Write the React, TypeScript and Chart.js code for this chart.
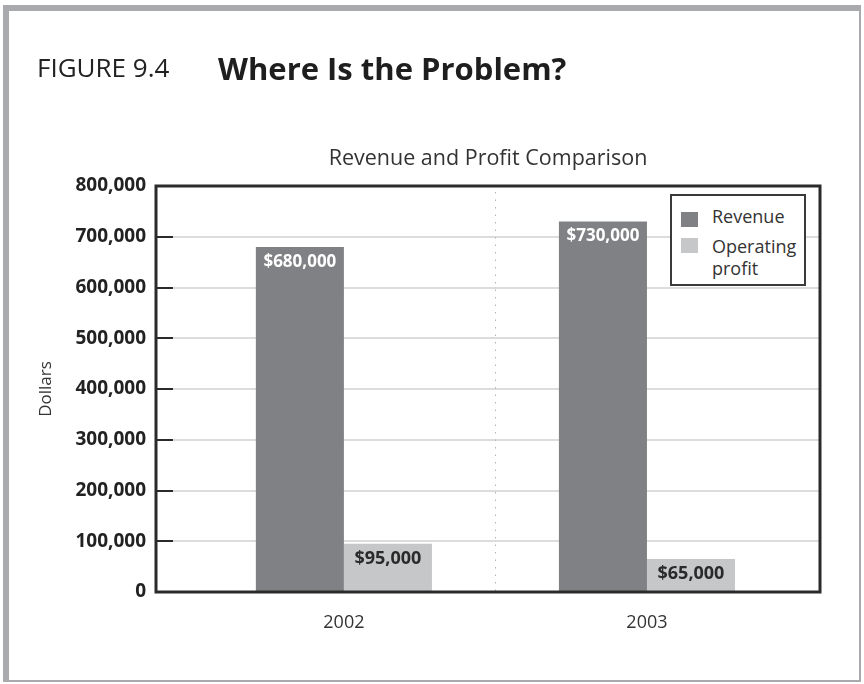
import React, { useEffect, useRef } from 'react';
import { Chart, registerables } from 'chart.js';

Chart.register(...registerables);

const categories = ['2002', '2003'];
const seriesNames = ['Revenue', 'Operating profit'];
const revenue = [680000, 730000];
const operatingProfit = [95000, 65000];
const yTickStep = 100000;
const yMax = 800000;

const FONT = '"Open Sans", "Noto Sans", sans-serif';
const REV_COLOR = '#808184';
const PROFIT_COLOR = '#c6c7c9';
const FRAME_GRAY = '#a9aaad';

const fmt = (v: number) => v.toLocaleString('en-US');

const decorPlugin = {
  id: 'decor',
  afterDatasetsDraw(chart: any) {
    const { ctx, chartArea: a, scales } = chart;
    const x = scales.x;
    const y = scales.y;
    ctx.save();
    // dotted category divider
    const xm = Math.round(x.getPixelForValue(0.5)) + 0.5;
    ctx.strokeStyle = '#b5b5b5';
    ctx.lineWidth = 1;
    ctx.setLineDash([1.5, 6]);
    ctx.beginPath();
    ctx.moveTo(xm, a.top + 6);
    ctx.lineTo(xm, a.bottom);
    ctx.stroke();
    ctx.setLineDash([]);
    // inner tick marks
    ctx.strokeStyle = '#2a2a2a';
    ctx.lineWidth = 2;
    y.ticks.forEach((t: any) => {
      const py = Math.round(y.getPixelForValue(t.value));
      ctx.beginPath();
      ctx.moveTo(a.left, py);
      ctx.lineTo(a.left + 17, py);
      ctx.stroke();
    });
    // value labels
    chart.data.datasets.forEach((ds: any, di: number) => {
      const meta = chart.getDatasetMeta(di);
      meta.data.forEach((el: any, i: number) => {
        const v = ds.data[i].y;
        ctx.fillStyle = di === 0 ? '#ffffff' : '#2a2a2a';
        ctx.font = `bold ${di === 0 ? 17 : 18}px ${FONT}`;
        ctx.textAlign = 'center';
        ctx.textBaseline = 'middle';
        ctx.fillText('$' + fmt(v), el.x, el.y + 15);
      });
    });
    // plot frame
    ctx.strokeStyle = '#2a2a2a';
    ctx.lineWidth = 3;
    ctx.strokeRect(a.left, a.top, a.right - a.left, a.bottom - a.top);
    ctx.restore();
  },
};

export default function App() {
  const canvasRef = useRef<HTMLCanvasElement | null>(null);

  useEffect(() => {
    const canvas = canvasRef.current;
    if (!canvas) return;
    const chart = new Chart(canvas, {
      type: 'bar',
      data: {
        datasets: [
          {
            label: seriesNames[0],
            data: categories.map((_, i) => ({ x: i, y: revenue[i] })),
            backgroundColor: REV_COLOR,
            categoryPercentage: 0.581,
            barPercentage: 1,
          },
          {
            label: seriesNames[1],
            data: categories.map((_, i) => ({ x: i, y: operatingProfit[i] })),
            backgroundColor: PROFIT_COLOR,
            categoryPercentage: 0.581,
            barPercentage: 1,
          },
        ],
      },
      options: {
        animation: false,
        responsive: false,
        maintainAspectRatio: false,
        layout: { padding: { top: 186, right: 44, left: 0, bottom: 0 } },
        plugins: {
          legend: { display: false },
          tooltip: { enabled: false },
          title: { display: false },
        },
        scales: {
          x: {
            type: 'linear',
            min: -0.62,
            max: 1.571,
            offset: false,
            grid: { display: false },
            border: { display: false },
            afterBuildTicks: (s: any) => {
              s.ticks = categories.map((_, i) => ({ value: i }));
            },
            afterFit: (s: any) => {
              s.height = 92;
            },
            ticks: {
              autoSkip: false,
              maxRotation: 0,
              padding: 12,
              color: '#333',
              font: { family: FONT, size: 18 },
              callback: (v: any) => categories[v] ?? '',
            },
          },
          y: {
            min: 0,
            max: yMax,
            grid: { color: '#dcdcdc', lineWidth: 2, drawTicks: false },
            border: { display: false },
            afterFit: (s: any) => {
              s.width = 156;
            },
            ticks: {
              stepSize: yTickStep,
              padding: 10,
              color: '#222',
              font: { family: FONT, size: 19, weight: 'bold' },
              callback: (v: any) => fmt(v),
            },
            title: {
              display: true,
              text: 'Dollars',
              color: '#333',
              font: { family: FONT, size: 17 },
              padding: { top: 36, bottom: 0 },
            },
          },
        },
      },
      plugins: [decorPlugin],
    } as any);
    return () => chart.destroy();
  }, []);

  return (
    <div
      style={{
        position: 'absolute',
        left: 0,
        top: 0,
        width: 864,
        height: 684,
        background: '#fff',
        fontFamily: FONT,
        overflow: 'hidden',
      }}
    >
      {/* outer frame */}
      <div
        style={{
          position: 'absolute',
          left: 3,
          top: 5,
          width: 861 - 3 - 6 - 2,
          height: 682 - 5 - 6 - 2,
          borderTop: `6px solid ${FRAME_GRAY}`,
          borderLeft: `6px solid ${FRAME_GRAY}`,
          borderRight: `2px solid ${FRAME_GRAY}`,
          borderBottom: `2px solid ${FRAME_GRAY}`,
        }}
      />
      <canvas
        ref={canvasRef}
        width={864}
        height={684}
        style={{ position: 'absolute', left: 0, top: 0, width: 864, height: 684 }}
      />
      <div
        style={{
          position: 'absolute',
          left: 37,
          top: 49,
          fontSize: 26,
          lineHeight: '36px',
          color: '#222',
          whiteSpace: 'nowrap',
        }}
      >
        FIGURE 9.4
      </div>
      <div
        style={{
          position: 'absolute',
          left: 218,
          top: 48,
          fontSize: 31,
          fontWeight: 'bold',
          lineHeight: '40px',
          color: '#1e1e1e',
          whiteSpace: 'nowrap',
        }}
      >
        Where Is the Problem?
      </div>
      <div
        style={{
          position: 'absolute',
          left: 146,
          width: 684,
          top: 143,
          textAlign: 'center',
          fontSize: 21.5,
          lineHeight: '28px',
          color: '#333',
          whiteSpace: 'nowrap',
        }}
      >
        Revenue and Profit Comparison
      </div>
      {/* legend */}
      <div
        style={{
          position: 'absolute',
          left: 670,
          top: 194,
          width: 132,
          height: 88,
          border: '2px solid #3a3a3a',
          background: '#fff',
        }}
      >
        <div style={{ position: 'absolute', left: 9, top: 16, width: 17, height: 15, background: REV_COLOR }} />
        <div style={{ position: 'absolute', left: 9, top: 42, width: 17, height: 15, background: PROFIT_COLOR }} />
        <div
          style={{ position: 'absolute', left: 40, top: 9, fontSize: 18, lineHeight: '22px', color: '#333', whiteSpace: 'nowrap' }}
        >
          {seriesNames[0]}
        </div>
        <div
          style={{ position: 'absolute', left: 40, top: 39, width: 88, fontSize: 18, lineHeight: '22px', color: '#333' }}
        >
          {seriesNames[1]}
        </div>
      </div>
    </div>
  );
}
